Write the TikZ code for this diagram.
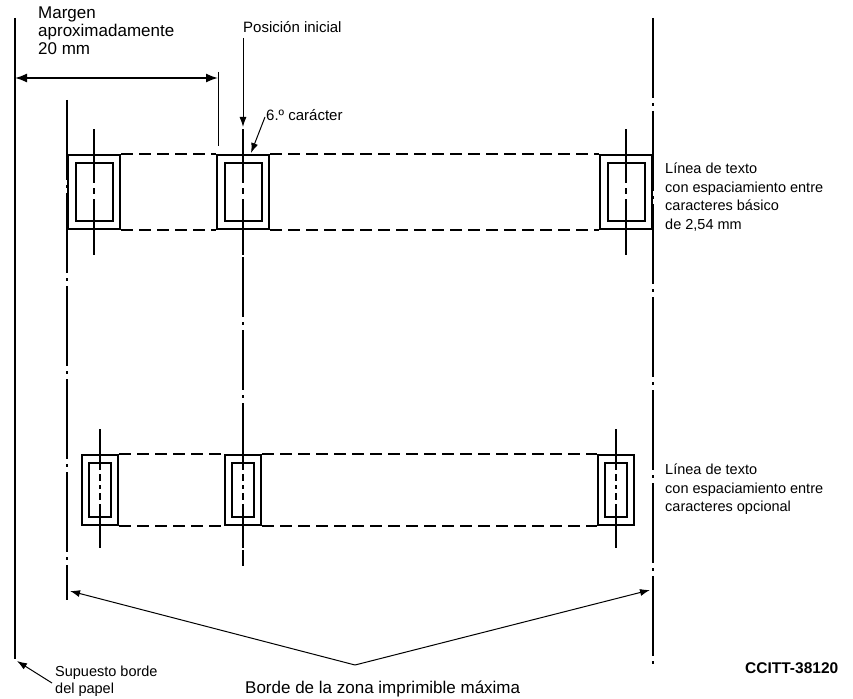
\documentclass[tikz,border=0pt]{standalone}
\usepackage{fontspec}
\setmainfont{Liberation Sans}
\usetikzlibrary{arrows.meta}

\begin{document}
\begin{tikzpicture}[x=1pt, y=-1pt]
		\tikzstyle{outerbox} = [draw, line width=2.4pt, inner sep=0pt, minimum width=52pt, minimum height=74pt]
		\tikzstyle{innerbox} = [draw, line width=2pt, inner sep=0pt, minimum width=37pt, minimum height=58pt]
		\tikzstyle{outersmall} = [draw, line width=2.4pt, inner sep=0pt, minimum width=36pt, minimum height=70pt]
		\tikzstyle{innersmall} = [draw, line width=2pt, inner sep=0pt, minimum width=22pt, minimum height=54pt]
		\tikzstyle{rowline} = [line width=1.6pt, dash pattern=on 12pt off 6pt]
		\tikzstyle{border} = [line width=2.2pt, dash pattern=on 80pt off 5pt on 3pt off 5pt]
		\tikzstyle{axisbig} = [line width=1.4pt, dash pattern=on 54pt off 5pt on 6pt off 5pt on 80pt]
		\tikzstyle{axissmall} = [line width=1.4pt, dash pattern=on 41pt off 4pt on 7pt off 4pt on 4pt off 4pt on 7pt off 4pt on 80pt]
		\tikzstyle{txt} = [inner sep=0pt, anchor=north west, align=left]
		\tikzstyle{pointer} = [line width=1pt, -{Latex[length=10pt, width=7pt]}]
		\useasboundingbox (0,0) rectangle (853,698);
		% paper edge and printable zone
		\draw [line width=2.6pt] (15,18) -- (15,659);
		\draw [border] (67,100) -- (67,600);
		\draw [border] (653,18) -- (653,665);
		% margin
		\node [txt, font=\fontsize{17}{18}\selectfont] (margin) at (38,7) {Margen\\aproximadamente\\20 mm};
		\coordinate (edge) at (15,78);
		\coordinate (start) at (218,78);
		\draw [line width=1pt] (218,72) -- (218,146);
		\draw [line width=1.6pt, {Latex[length=12pt, width=9pt]}-{Latex[length=12pt, width=9pt]}] (edge) -- (start);
		% first line: basic spacing
		\node [outerbox] (o1) at (94,192) {};
		\node [innerbox] (i1) at (94,192) {};
		\node [outerbox] (o2) at (243,192) {};
		\node [innerbox] (i2) at (243,192) {};
		\node [outerbox] (o3) at (626,192) {};
		\node [innerbox] (i3) at (626,192) {};
		\draw [rowline] (o1.north east) -- (o2.north west);
		\draw [rowline] (o2.north east) -- (o3.north west);
		\draw [rowline] (o1.south east) -- (o2.south west);
		\draw [rowline] (o2.south east) -- (o3.south west);
		\draw [axisbig] (i1.north) ++(0,-33) -- ++(0,126);
		\draw [axisbig] (i2.north) ++(0,-33) -- ++(0,126);
		\draw [axisbig] (i3.north) ++(0,-33) -- ++(0,126);
		% second line: optional spacing
		\node [outersmall] (o4) at (100,490) {};
		\node [innersmall] (i4) at (100,490) {};
		\node [outersmall] (o5) at (243,490) {};
		\node [innersmall] (i5) at (243,490) {};
		\node [outersmall] (o6) at (616,490) {};
		\node [innersmall] (i6) at (616,490) {};
		\draw [rowline] (o4.north east) -- (o5.north west);
		\draw [rowline] (o5.north east) -- (o6.north west);
		\draw [rowline] (o4.south east) -- (o5.south west);
		\draw [rowline] (o5.south east) -- (o6.south west);
		\draw [axissmall] (i4.north) ++(0,-33) -- ++(0,119);
		\draw [axissmall] (i5.north) ++(0,-33) -- ++(0,119);
		\draw [axissmall] (i6.north) ++(0,-33) -- ++(0,119);
		% initial position
		\draw [line width=1.2pt, dash pattern=on 60pt off 5pt on 3pt off 5pt] (o2.south) ++(0,27) -- (i5.north |- 0,430);
		\draw [line width=1.2pt] (i5.south) ++(0,32) -- ++(0,16);
		\node [txt, font=\fontsize{15}{18}\selectfont] (pos) at (243,21) {Posición inicial};
		\coordinate (postip) at (243,127);
		\draw [pointer] (243,38) -- (postip);
		\node [txt, font=\fontsize{15}{18}\selectfont] (sixth) at (266,109) {6.º carácter};
		\coordinate (sixtip) at (251,153);
		\draw [pointer] (265,117) -- (sixtip);
		% labels
		\node [txt, font=\fontsize{14.5}{18.5}\selectfont] (basic) at (665,163) {Línea de texto\\con espaciamiento entre\\caracteres básico\\de 2,54 mm};
		\node [txt, font=\fontsize{14.5}{18.5}\selectfont] (opt) at (665,464) {Línea de texto\\con espaciamiento entre\\caracteres opcional};
		% bottom
		\coordinate (apex) at (355,665);
		\coordinate (zl) at (70,591);
		\coordinate (zr) at (650,590);
		\draw [pointer] (apex) -- (zl);
		\draw [pointer] (apex) -- (zr);
		\node [txt, font=\fontsize{17}{18}\selectfont] (zone) at (245,681) {Borde de la zona imprimible máxima};
		\node [txt, font=\fontsize{14.5}{17}\selectfont] (paper) at (55,666) {Supuesto borde\\del papel};
		\coordinate (corner) at (17,661);
		\draw [pointer] (52,683) -- (corner);
		\node [txt, font=\bfseries\fontsize{15.5}{18}\selectfont] (ref) at (745,662) {CCITT-38120};
	\end{tikzpicture}
\end{document}
